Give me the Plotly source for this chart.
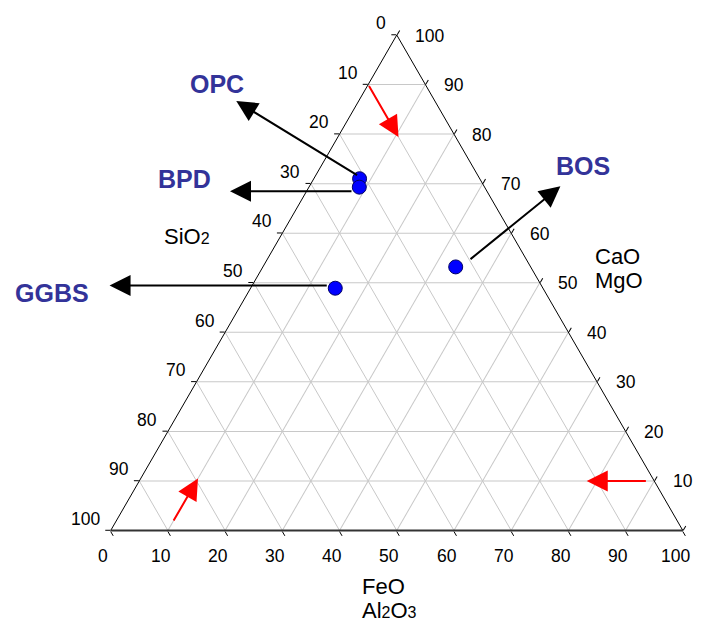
import math
import plotly.graph_objects as go

W, H = 701, 621

# ---------------- data (mass %, normalised) ----------------
materials = ["OPC", "BPD", "GGBS", "BOS"]
cao_mgo = [71.0, 69.3, 48.9, 53.2]      # top apex
sio2 = [21.0, 21.9, 36.3, 13.1]         # bottom-left apex
feo_al2o3 = [8.0, 8.8, 14.8, 33.7]      # bottom-right apex

tick_values = [0, 10, 20, 30, 40, 50, 60, 70, 80, 90, 100]
tick_labels = ["0", "10", "20", "30", "40", "50", "60", "70", "80", "90", "100"]

# reading-direction guide arrows (CaO+MgO, SiO2, FeO+Al2O3)
guide_start = [(90.0, 10.0, 0.0), (1.7, 88.3, 10.0), (10.0, 1.2, 88.8)]
guide_end = [(79.4, 10.0, 10.6), (10.5, 79.5, 10.0), (10.0, 11.8, 78.2)]

# ---------------- layout geometry ----------------
DOM_X = [0.136, 0.996]
DOM_Y = [0.1457, 0.9436]
FONT = "Liberation Sans, Arial, Helvetica, sans-serif"
LABEL_COLOR = "#333399"

# same triangle fitting as plotly's ternary subplot (margins are 0)
W_OVER_H = math.sqrt(4.0 / 3.0)
wmax = (DOM_X[1] - DOM_X[0]) * W
hmax = (DOM_Y[1] - DOM_Y[0]) * H
if wmax > W_OVER_H * hmax:
    th = hmax
    tw = th * W_OVER_H
else:
    tw = wmax
    th = tw / W_OVER_H
tx0 = W * (DOM_X[0] + DOM_X[1]) / 2 - tw / 2
ty0 = H * (1 - (DOM_Y[0] + DOM_Y[1]) / 2) - th / 2


def tern_px(a, b, c):
    s = a + b + c
    a, b, c = a / s, b / s, c / s
    return tx0 + tw * (c + a / 2), ty0 + th * (1 - a)


def paper(px, py):
    return px / W, 1 - py / H


fig = go.Figure()
fig.add_trace(go.Scatterternary(
    a=cao_mgo, b=sio2, c=feo_al2o3, text=materials,
    mode="markers",
    marker=dict(size=14, color="#0000ff", line=dict(color="#000066", width=1)),
    hoverinfo="text+a+b+c", showlegend=False,
))

axis_common = dict(
    tickmode="linear", tick0=0, dtick=10,
    showticklabels=False, ticks="outside", ticklen=5,
    tickcolor="black", tickwidth=1,
    showgrid=True, gridcolor="#c8c8c8", gridwidth=1,
    showline=True, linecolor="black", linewidth=1,
    title=dict(text=""),
)
fig.update_layout(
    width=W, height=H, autosize=False,
    margin=dict(l=0, r=0, t=0, b=0, pad=0),
    paper_bgcolor="white",
    font=dict(family=FONT, size=17, color="black"),
    ternary=dict(
        domain=dict(x=DOM_X, y=DOM_Y),
        bgcolor="white", sum=100,
        aaxis=axis_common,
        baxis=dict(axis_common, linecolor="#333333", linewidth=2),
        caxis=axis_common,
    ),
)

ann = []


def text_ann(px, py, text, size, xanchor="center", yanchor="middle",
             color="black", bold=False):
    x, y = paper(px, py)
    if bold:
        text = "<b>" + text + "</b>"
    ann.append(dict(x=x, y=y, xref="paper", yref="paper", text=text,
                    showarrow=False, xanchor=xanchor, yanchor=yanchor,
                    font=dict(family=FONT, size=size, color=color)))


def arrow_ann(tail, head, color, width=2, size=2.1):
    hx, hy = paper(*head)
    ann.append(dict(x=hx, y=hy, xref="paper", yref="paper", text="",
                    showarrow=True, arrowhead=2, arrowsize=size,
                    arrowwidth=width, arrowcolor=color,
                    ax=tail[0] - head[0], ay=tail[1] - head[1],
                    axref="pixel", ayref="pixel", standoff=0, startstandoff=0))


# tick labels -------------------------------------------------------------
for v, t in zip(tick_values, tick_labels):
    # SiO2 along the left edge
    ex, ey = tern_px(100 - v, v, 0)
    text_ann(ex - 8.5, ey - 11.8, t, 17.5, xanchor="right")
    # CaO/MgO along the right edge
    ex, ey = tern_px(v, 0, 100 - v)
    text_ann(ex + 16.5, ey + 0.5, t, 17.5, xanchor="left")
    # FeO/Al2O3 along the bottom edge
    ex, ey = tern_px(0, 100 - v, v)
    text_ann(ex - 7.3, ey + 25, t, 17.5)

# axis titles -------------------------------------------------------------
SUB = '<span style="font-size:16px">{}</span>'
text_ann(162, 236.7, "SiO" + SUB.format("2"), 22, xanchor="left")
text_ann(593, 256, "CaO", 22, xanchor="left")
text_ann(593, 280, "MgO", 22, xanchor="left")
text_ann(359.7, 586.7, "FeO", 22, xanchor="left")
text_ann(359.7, 610.5, "Al" + SUB.format("2") + "O" + SUB.format("3"), 22,
         xanchor="left")

# guide arrows ------------------------------------------------------------
for s, e in zip(guide_start, guide_end):
    arrow_ann(tern_px(*s), tern_px(*e), "#ff0000")

# material labels with arrows (offsets in px relative to each point) -------
tail_off = {"OPC": (-1, -2.6), "BPD": (-6.3, 4), "GGBS": (-7, -2.6), "BOS": (13.3, -6.6)}
head_off = {"OPC": (-123.3, -77.6), "BPD": (-129.3, 4), "GGBS": (-225.7, -2.6), "BOS": (104.7, -80.6)}
label_off = {"OPC": (-142.6, -94.3), "BPD": (-174.3, -7.7), "GGBS": (-283.3, 4.4), "BOS": (127.8, -101.3)}

for name, a, b, c in zip(materials, cao_mgo, sio2, feo_al2o3):
    px, py = tern_px(a, b, c)
    tail = (px + tail_off[name][0], py + tail_off[name][1])
    head = (px + head_off[name][0], py + head_off[name][1])
    arrow_ann(tail, head, "black")
    text_ann(px + label_off[name][0], py + label_off[name][1], name, 25,
             color=LABEL_COLOR, bold=True)

fig.update_layout(annotations=ann)
fig.write_html(
    "out.html", include_plotlyjs=True, config={"displayModeBar": False},
    post_script="document.body.style.margin='0';document.body.style.padding='0';",
)
